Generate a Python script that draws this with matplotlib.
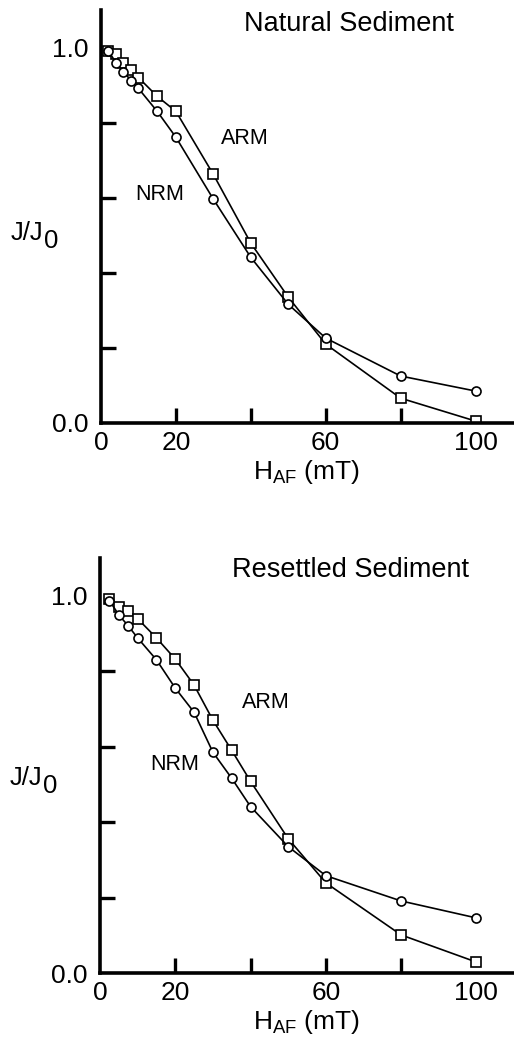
import matplotlib.pyplot as plt
from matplotlib.ticker import FixedLocator

plt.rcParams['font.family'] = ['Liberation Sans', 'DejaVu Sans']
plt.rcParams['mathtext.fontset'] = 'custom'
plt.rcParams['mathtext.rm'] = 'Liberation Sans'
plt.rcParams['mathtext.it'] = 'Liberation Sans:italic'
plt.rcParams['mathtext.bf'] = 'Liberation Sans:bold'

# natural sediment
nat_field = [2, 4, 6, 8, 10, 15, 20, 30, 40, 50, 60, 80, 100]
nat_nrm = [0.99, 0.96, 0.936, 0.912, 0.891, 0.83, 0.761, 0.596, 0.441, 0.316, 0.226, 0.125, 0.085]
nat_arm = [0.99, 0.984, 0.96, 0.939, 0.92, 0.87, 0.83, 0.662, 0.479, 0.335, 0.21, 0.066, 0.005]

# resettled sediment
res_field = [2.5, 5, 7.5, 10, 15, 20, 25, 30, 35, 40, 50, 60, 80, 100]
res_nrm = [0.987, 0.949, 0.92, 0.888, 0.83, 0.755, 0.691, 0.585, 0.516, 0.441, 0.335, 0.258, 0.191, 0.146]
res_arm = [0.99, 0.971, 0.96, 0.939, 0.888, 0.832, 0.763, 0.67, 0.59, 0.508, 0.356, 0.239, 0.101, 0.029]

xtick_labels = ['0', '20', '60', '100']
xtick_pos = [0, 20, 60, 100]
minor_x = [20, 40, 60, 80]
minor_y = [0.2, 0.4, 0.6, 0.8]

fig = plt.figure(figsize=(5.14, 10.41), dpi=100)
ax1 = fig.add_axes([0.1965, 0.5937, 0.8016, 0.3967])
ax2 = fig.add_axes([0.1946, 0.0653, 0.8054, 0.3987])

panels = [
    (ax1, nat_field, nat_nrm, nat_arm, 'Natural Sediment', (349, 24),
     (245, 138), (160, 195), 0.46),
    (ax2, res_field, res_nrm, res_arm, 'Resettled Sediment', (350, 570),
     (266, 703), (175, 765), 0.47),
]

for ax, xs, nrm, arm, title, tpos, arm_px, nrm_px, ylab_y in panels:
    ax.plot(xs, arm, '-s', color='black', lw=1.2, ms=6.5, mfc='white', mec='black', mew=1.2)
    ax.plot(xs, nrm, '-o', color='black', lw=1.2, ms=6.5, mfc='white', mec='black', mew=1.2)
    ax.set_xlim(0, 110)
    ax.set_ylim(0, 1.1)
    for s in ['top', 'right']:
        ax.spines[s].set_visible(False)
    for s in ['left', 'bottom']:
        ax.spines[s].set_linewidth(2.6)
    ax.xaxis.remove_overlapping_locs = False
    ax.yaxis.remove_overlapping_locs = False
    ax.set_xticks(xtick_pos)
    ax.set_xticklabels(xtick_labels)
    ax.set_yticks([0, 1.0])
    ax.set_yticklabels(['0.0', '1.0'])
    ax.xaxis.set_minor_locator(FixedLocator(minor_x))
    ax.yaxis.set_minor_locator(FixedLocator(minor_y))
    ax.tick_params(which='major', length=0, labelsize=19, pad=6)
    ax.tick_params(axis='y', which='major', pad=9)
    ax.tick_params(which='minor', direction='in', length=11, width=2.4)
    ax.set_xlabel(r'H$_{\mathrm{AF}}$ (mT)', fontsize=19, labelpad=2)

    fig.text(tpos[0] / 514, 1 - tpos[1] / 1041, title, fontsize=19.5, ha='center', va='center')
    fig.text(arm_px[0] / 514, 1 - arm_px[1] / 1041, 'ARM', fontsize=15.5, ha='center', va='center')
    fig.text(nrm_px[0] / 514, 1 - nrm_px[1] / 1041, 'NRM', fontsize=15.5, ha='center', va='center')

    t = ax.text(-0.14, ylab_y, 'J/J', fontsize=18.5, ha='right', va='center', transform=ax.transAxes)
    ax.annotate('0', xy=(1, 0), xycoords=t, xytext=(0.5, -6), textcoords='offset points',
                fontsize=18.5, ha='left', va='bottom')

fig.savefig('out.png', dpi=100)
